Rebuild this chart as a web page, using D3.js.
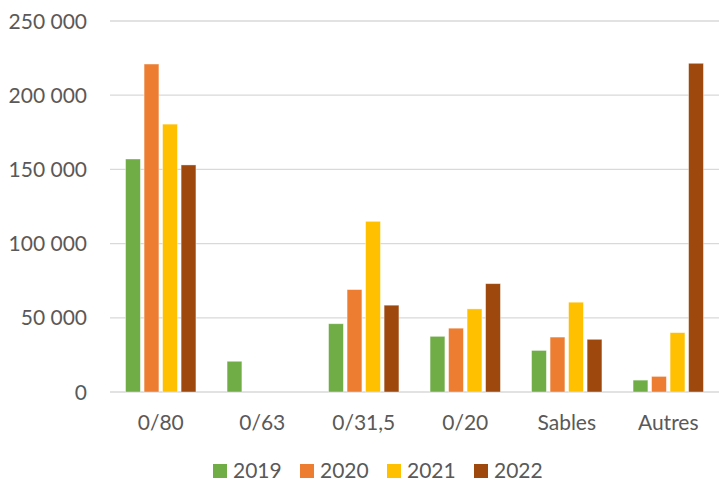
<!DOCTYPE html>
<html lang="fr">
<head>
  <meta charset="UTF-8" />
  <title>Volumes par granulométrie</title>
  <style>
    body {
      margin: 0;
      background: white;
    }
    svg {
      display: block;
      font-family: "Lato", "Open Sans", sans-serif;
    }
    .tick-label, .cat-label, .legend-label {
      font-size: 21px;
      fill: #595959;
    }
    .grid line {
      stroke: #d9d9d9;
      stroke-width: 1.3px;
    }
  </style>
</head>
<body>
  <svg width="719" height="484"></svg>

  <script src="https://d3js.org/d3.v7.min.js"></script>
  <script>
    const categories = ["0/80", "0/63", "0/31,5", "0/20", "Sables", "Autres"];
    const years = ["2019", "2020", "2021", "2022"];
    const colors = ["#70ad47", "#ed7d31", "#ffc000", "#9e480e"];

    const values2019 = [157000, 20700, 46000, 37500, 28000, 8000];
    const values2020 = [221000, 0, 69000, 43000, 37000, 10500];
    const values2021 = [180500, 0, 115000, 56000, 60500, 40000];
    const values2022 = [153000, 0, 58500, 73000, 35500, 221500];

    const yTicks = [0, 50000, 100000, 150000, 200000, 250000];

    const series = [values2019, values2020, values2021, values2022];

    const svg = d3.select("svg");

    const plotLeft = 110, plotRight = 719, plotTop = 21, plotBottom = 392;

    const x0 = d3.scaleBand()
      .domain(categories)
      .range([plotLeft, plotRight])
      .paddingInner(0.307)
      .paddingOuter(0.1535);

    const x1 = d3.scaleBand()
      .domain(years)
      .range([0, x0.bandwidth()])
      .paddingInner(0.2)
      .paddingOuter(0);

    const y = d3.scaleLinear()
      .domain([0, 250000])
      .range([plotBottom, plotTop]);

    const fmt = v => d3.format(",")(v).replace(/,/g, " ");

    // gridlines
    svg.append("g")
      .attr("class", "grid")
      .selectAll("line")
      .data(yTicks)
      .join("line")
        .attr("x1", plotLeft)
        .attr("x2", plotRight)
        .attr("y1", d => y(d))
        .attr("y2", d => y(d));

    // y labels
    svg.append("g")
      .selectAll("text")
      .data(yTicks)
      .join("text")
        .attr("class", "tick-label")
        .attr("x", 87)
        .attr("y", d => y(d) + 7.5)
        .attr("text-anchor", "end")
        .text(fmt);

    // bars
    const rows = categories.map((c, i) => ({
      cat: c,
      vals: years.map((yr, j) => ({ year: yr, value: series[j][i], color: colors[j] }))
    }));

    svg.append("g")
      .selectAll("g")
      .data(rows)
      .join("g")
        .attr("transform", d => `translate(${x0(d.cat)},0)`)
      .selectAll("rect")
      .data(d => d.vals.filter(v => v.value > 0))
      .join("rect")
        .attr("x", d => x1(d.year))
        .attr("y", d => y(d.value))
        .attr("width", x1.bandwidth())
        .attr("height", d => y(0) - y(d.value))
        .attr("fill", d => d.color)
        .attr("stroke", "rgba(255,255,255,0.5)")
        .attr("stroke-width", 0.75);

    // category labels
    svg.append("g")
      .selectAll("text")
      .data(categories)
      .join("text")
        .attr("class", "cat-label")
        .attr("x", d => x0(d) + x0.bandwidth() / 2)
        .attr("y", 430)
        .attr("text-anchor", "middle")
        .text(d => d);

    // legend
    const legendX = [213, 300, 387, 474];
    const legend = svg.append("g")
      .selectAll("g")
      .data(years)
      .join("g")
        .attr("transform", (d, i) => `translate(${legendX[i]},464)`);

    legend.append("rect")
      .attr("width", 14)
      .attr("height", 14)
      .attr("fill", (d, i) => colors[i]);

    legend.append("text")
      .attr("class", "legend-label")
      .attr("x", 20)
      .attr("y", 14)
      .text(d => d);
  </script>
</body>
</html>
